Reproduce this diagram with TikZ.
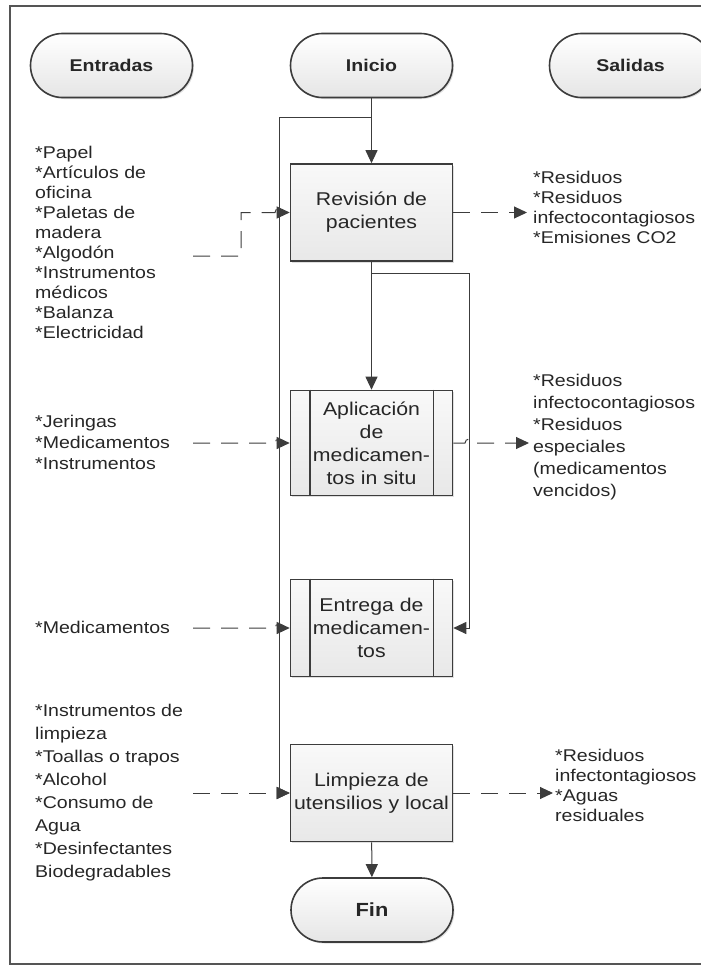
\documentclass[tikz,border=0pt]{standalone}
\usepackage{fontspec}
\setmainfont{Liberation Sans}[FakeStretch=1.15]
\usetikzlibrary{arrows.meta,shadows,calc}
\definecolor{linec}{HTML}{3C3C3C}
\definecolor{textc}{HTML}{262626}
\definecolor{framec}{HTML}{555555}

\begin{document}
\begin{tikzpicture}[x=1pt,y=-1pt,
  every node/.style={text=textc},
  shade/.style={drop shadow={shadow xshift=1.5pt,shadow yshift=-1.5pt,opacity=0.25}},
  term/.style={shade,draw=linec,line width=1.6pt,rounded corners=32pt,
    top color=white,bottom color=gray!20,minimum width=162pt,minimum height=64pt,
    inner sep=0pt,font=\bfseries\fontsize{17}{20}\selectfont},
  proc/.style={shade,draw=linec,line width=1.6pt,top color=gray!5,bottom color=gray!18,
    minimum width=162pt,minimum height=97pt,inner sep=0pt,align=center,
    font=\fontsize{18.5}{23}\selectfont},
  ltxt/.style={anchor=west,align=left,inner sep=0pt},
  flow/.style={draw=linec,line width=1pt,-{Triangle[length=13pt,width=12pt]}},
  dflow/.style={flow,dash pattern=on 17pt off 11pt},
  sline/.style={draw=linec,line width=1.6pt}
]
\useasboundingbox (0,0) rectangle (701,966);

% outer container
\draw[framec,line width=1.8pt] (10,6) rectangle (740,964);

% column headers and terminators
\node[term] (entr) at (111.5,65.5) {Entradas};
\node[term] (ini)  at (371.5,65.5) {Inicio};
\node[term] (sal)  at (630.5,65.5) {Salidas};

% process steps
\node[proc] (rev)  at (371.5,212.5) {Revisión de\\pacientes};
\node[proc,minimum height=105pt] (apl) at (371.5,443) {Aplicación\\de\\medicamen-\\tos in situ};
\node[proc] (entg) at (371.5,628) {Entrega de\\medicamen-\\tos};
\node[proc] (lim)  at (371.5,793) {Limpieza de\\utensilios y local};
\node[term,font=\bfseries\fontsize{19}{22}\selectfont] (fin) at (372,910) {Fin};

% side bars of the predefined-process boxes
\draw[sline] ([xshift=20pt]apl.north west) -- ([xshift=20pt]apl.south west);
\draw[sline] ([xshift=-20pt]apl.north east) -- ([xshift=-20pt]apl.south east);
\draw[sline] ([xshift=20pt]entg.north west) -- ([xshift=20pt]entg.south west);
\draw[sline] ([xshift=-20pt]entg.north east) -- ([xshift=-20pt]entg.south east);

% helper points of the solid flow
\coordinate (br1) at (371.5,117);
\coordinate (lx)  at (279,117);
\coordinate (br2) at (371.5,273);
\coordinate (rx)  at (469,273);

% main flow
\draw[flow] (ini) -- (rev);
\draw[flow] (br1) -- (lx) |- (lim.west);
\draw[flow] (rev) -- (apl);
\draw[flow] (rev.south) -- (br2) -- (rx) |- (entg.east);
\draw[flow] (lim) -- (fin);

% inputs
\coordinate (i1)  at (193,256);
\coordinate (i1c) at (241,256);
\coordinate (i2)  at (193,443);
\coordinate (i3)  at (193,628);
\coordinate (i4)  at (193,793);
\draw[dflow] (i1) -- (i1c) |- ($(rev.west -| lx)+(-4,0)$)
  arc[start angle=180,end angle=360,radius=4] -- (rev.west);
\draw[dflow] (i2) -- ($(apl.west -| lx)+(-4,0)$)
  arc[start angle=180,end angle=360,radius=4] -- (apl.west);
\draw[dflow] (i3) -- ($(entg.west -| lx)+(-4,0)$)
  arc[start angle=180,end angle=360,radius=4] -- (entg.west);
\draw[dflow] (i4) -- (lim.west);

% outputs
\coordinate (o1) at (527,212.5);
\coordinate (o2) at (529,443);
\coordinate (o3) at (553,793);
\draw[dflow] (rev.east) -- (o1);
\draw[dflow] (apl.east) -- ($(apl.east -| rx)+(-4,0)$)
  arc[start angle=180,end angle=360,radius=4] -- (o2);
\draw[dflow] (lim.east) -- (o3);

% input lists
\node[ltxt,font=\fontsize{17}{20}\selectfont] (t1) at (35,242.5)
  {*Papel\\*Artículos de\\oficina\\*Paletas de\\madera\\*Algodón\\*Instrumentos\\médicos\\*Balanza\\*Electricidad};
\node[ltxt,font=\fontsize{17}{21}\selectfont] (t2) at (35,442)
  {*Jeringas\\*Medicamentos\\*Instrumentos};
\node[ltxt,font=\fontsize{17}{21}\selectfont] (t3) at (35,627)
  {*Medicamentos};
\node[ltxt,font=\fontsize{17}{23}\selectfont] (t4) at (35,792.5)
  {*Instrumentos de\\limpieza\\*Toallas o trapos\\*Alcohol\\*Consumo de\\Agua\\*Desinfectantes\\Biodegradables};

% output lists
\node[ltxt,font=\fontsize{17}{20}\selectfont] (s1) at (533,207)
  {*Residuos\\*Residuos\\infectocontagiosos\\*Emisiones CO2};
\node[ltxt,font=\fontsize{17}{22}\selectfont] (s2) at (533,437)
  {*Residuos\\infectocontagiosos\\*Residuos\\especiales\\(medicamentos\\vencidos)};
\node[ltxt,font=\fontsize{17}{20}\selectfont] (s3) at (555,785)
  {*Residuos\\infectontagiosos\\*Aguas\\residuales};
\end{tikzpicture}
\end{document}
